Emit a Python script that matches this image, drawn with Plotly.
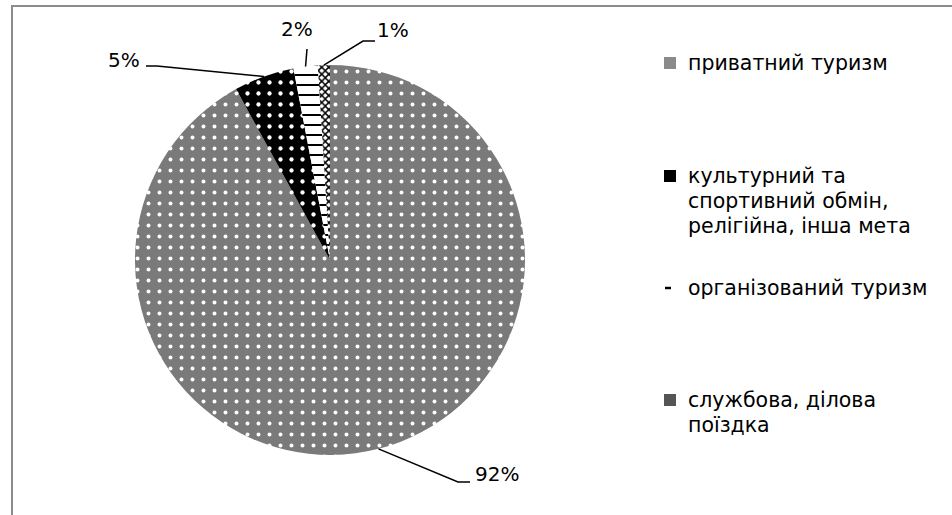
import math
import plotly.graph_objects as go

# ---- data ----
categories = [
    "приватний туризм",
    "культурний та спортивний обмін, релігійна, інша мета",
    "організований туризм",
    "службова, ділова поїздка",
]
legend_lines = [
    ["приватний туризм"],
    ["культурний та", "спортивний обмін,", "релігійна, інша мета"],
    ["організований туризм"],
    ["службова, ділова", "поїздка"],
]
values = [92, 5, 2, 1]
value_labels = ["92%", "5%", "2%", "1%"]

# ---- style / layout ----
W, H = 952, 515
CX, CY, R = 330, 260, 195
FONT = "'DejaVu Sans', sans-serif"
FS_LABEL = 20
FS_LEG = 20.5

bg_colors = ["#7a7a7a", "#000000", "#ffffff", "#ffffff"]
fg_colors = ["#ffffff", "#ffffff", "#000000", "#000000"]
shapes_pat = [".", ".", "-", "x"]
sizes_pat = [11, 11, 10, 5]
solid_pat = [0.1, 0.12, 0.2, 0.5]

# leader-line elbows and label centres (pixels), per slice
elbows = [(458, 482), (157, 66), (307, 49), (363, 41)]
elbow_ends = [(470, 482), (146, 66), (307, 49), (375, 41)]
label_pos = [(497, 474), (124, 60), (297, 29), (393, 30)]

# legend layout (pixels)
LEG_SYM_X = 664
LEG_TEXT_X = 686
LEG_Y0 = [63, 176, 288, 400]
LEG_LINE = 25


def px(x):
    return x / W


def py(y):
    return 1 - y / H


fig = go.Figure()
fig.add_trace(go.Pie(
    labels=categories,
    values=values,
    sort=False,
    direction="clockwise",
    rotation=0,
    textinfo="none",
    hoverinfo="label+percent",
    showlegend=False,
    domain=dict(x=[px(CX - R), px(CX + R)], y=[py(CY + R), py(CY - R)]),
    marker=dict(
        colors=bg_colors,
        line=dict(width=0),
        pattern=dict(
            shape=shapes_pat,
            fgcolor=fg_colors,
            bgcolor=bg_colors,
            size=sizes_pat,
            solidity=solid_pat,
            fillmode="replace",
        ),
    ),
))

shapes = []
annotations = []

# leader lines + value labels, anchored at slice mid-angles from the data
total = sum(values)
cum = 0
for i, v in enumerate(values):
    mid = (cum + v / 2) / total * 2 * math.pi
    cum += v
    ex = CX + R * math.sin(mid)
    ey = CY - R * math.cos(mid)
    bx, by = elbows[i]
    fx, fy = elbow_ends[i]
    path = f"M {px(ex)},{py(ey)} L {px(bx)},{py(by)} L {px(fx)},{py(fy)}"
    shapes.append(dict(type="path", xref="paper", yref="paper", path=path,
                       line=dict(color="black", width=1.5)))
    lx, ly = label_pos[i]
    annotations.append(dict(x=px(lx), y=py(ly), xref="paper", yref="paper",
                            text=value_labels[i], showarrow=False,
                            xanchor="center", yanchor="middle",
                            font=dict(family=FONT, size=FS_LABEL, color="black")))

# manual legend
for i, lines in enumerate(legend_lines):
    y0 = LEG_Y0[i]
    for j, t in enumerate(lines):
        annotations.append(dict(x=px(LEG_TEXT_X), y=py(y0 + j * LEG_LINE),
                                xref="paper", yref="paper", text=t,
                                showarrow=False, xanchor="left", yanchor="middle",
                                font=dict(family=FONT, size=FS_LEG, color="black")))
    s = 12
    if i == 2:
        shapes.append(dict(type="line", xref="paper", yref="paper",
                           x0=px(LEG_SYM_X + 1), x1=px(LEG_SYM_X + 7),
                           y0=py(y0), y1=py(y0), line=dict(color="black", width=2.5)))
    else:
        fill = ["#8a8a8a", "#000000", None, "#555555"][i]
        shapes.append(dict(type="rect", xref="paper", yref="paper",
                           x0=px(LEG_SYM_X), x1=px(LEG_SYM_X + s),
                           y0=py(y0 + s / 2), y1=py(y0 - s / 2),
                           fillcolor=fill, line=dict(width=0)))

# outer frame (only top and left edges are inside the picture)
frame = f"M {px(12)},{py(H + 10)} L {px(12)},{py(6)} L {px(W + 10)},{py(6)}"
shapes.append(dict(type="path", xref="paper", yref="paper", path=frame,
                   line=dict(color="#8c8c8c", width=2)))

fig.update_layout(
    width=W, height=H,
    margin=dict(l=0, r=0, t=0, b=0),
    paper_bgcolor="white",
    plot_bgcolor="white",
    shapes=shapes,
    annotations=annotations,
    font=dict(family=FONT),
)

fig.write_html(
    "out.html",
    config={"displayModeBar": False},
    post_script=(
        "document.body.style.margin='0';"
        "document.body.style.overflow='hidden';"
        "document.documentElement.style.overflow='hidden';"
    ),
)
